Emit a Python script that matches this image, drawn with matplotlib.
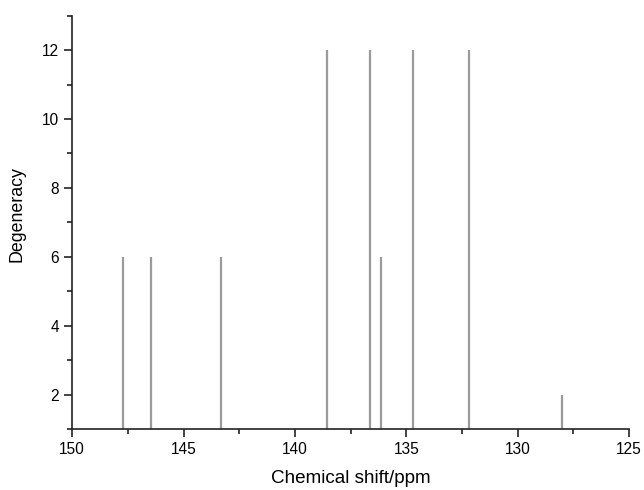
import matplotlib
matplotlib.use("Agg")
import matplotlib.pyplot as plt
from matplotlib.ticker import MultipleLocator

shifts = [147.71, 146.47, 143.33, 138.55, 136.62, 136.13, 134.71, 132.19, 128.03]
degeneracy = [6, 6, 6, 12, 12, 6, 12, 12, 2]
xticks = [150, 145, 140, 135, 130, 125]
yticks = [2, 4, 6, 8, 10, 12]

plt.rcParams['font.family'] = ['Liberation Sans', 'DejaVu Sans']

fig = plt.figure(figsize=(6.44, 4.9), dpi=100)
ax = fig.add_axes([0.112, 0.1245, 0.865, 0.8435])

ax.vlines(shifts, 1, degeneracy, colors='#9a9a9a', linewidth=1.6)

ax.set_xlim(150, 125)
ax.set_ylim(1, 13)
ax.set_xticks(xticks)
ax.set_yticks(yticks)
ax.xaxis.set_minor_locator(MultipleLocator(2.5))
ax.yaxis.set_minor_locator(MultipleLocator(1))
ax.spines['top'].set_visible(False)
ax.spines['right'].set_visible(False)
for s in ['left', 'bottom']:
    ax.spines[s].set_linewidth(1.2)
    ax.spines[s].set_color('#222222')
ax.tick_params(which='major', direction='out', length=6, width=1.2, labelsize=11.2, color='#222222')
ax.tick_params(which='minor', direction='out', length=3.5, width=1.2, color='#222222')
ax.set_xlabel('Chemical shift/ppm', fontsize=13.6, labelpad=9)
ax.set_ylabel('Degeneracy', fontsize=12.8)
ax.yaxis.set_label_coords(-0.083, 0.52)

fig.savefig('out.png', dpi=100)
